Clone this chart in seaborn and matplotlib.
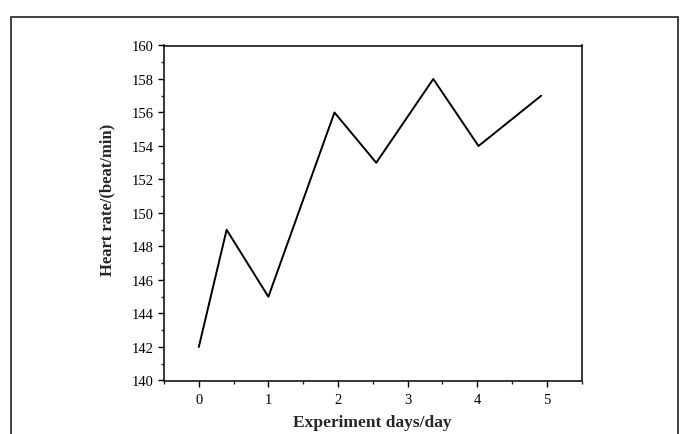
import numpy as np
import pandas as pd
import matplotlib
matplotlib.use("Agg")
import matplotlib.pyplot as plt
from matplotlib.patches import Rectangle
from matplotlib.ticker import MultipleLocator
import seaborn as sns

# values
days = [0.0, 0.4, 1.0, 1.95, 2.55, 3.37, 4.02, 4.92]
heart_rate = [142, 149, 145, 156, 153, 158, 154, 157]

x_label = "Experiment days/day"
y_label = "Heart rate/(beat/min)"

sns.set_style("ticks")
plt.rcParams['font.family'] = ['Liberation Serif', 'DejaVu Serif']

df = pd.DataFrame({"day": days, "rate": heart_rate})

fig = plt.figure(figsize=(6.83, 4.35), dpi=100)
ax = fig.add_axes([164 / 683, 1 - 381.5 / 435, (581.5 - 164) / 683, (381.5 - 46.5) / 435])

sns.lineplot(data=df, x="day", y="rate", color="black", linewidth=1.4, ax=ax)

ax.set_xlim(-0.5, 5.5)
ax.set_ylim(140, 160)
ax.xaxis.set_major_locator(MultipleLocator(1))
ax.xaxis.set_minor_locator(MultipleLocator(0.5))
ax.yaxis.set_major_locator(MultipleLocator(2))
ax.yaxis.set_minor_locator(MultipleLocator(1))
ax.tick_params(which="major", direction="out", length=4, width=1, labelsize=10.5, colors="black")
ax.tick_params(which="minor", direction="out", length=2.5, width=1)
ax.tick_params(axis="x", pad=5)
for sp in ax.spines.values():
    sp.set_linewidth(1.1)
    sp.set_color("black")

ax.set_xlabel(x_label, fontsize=12.5, fontweight="bold")
ax.set_ylabel(y_label, fontsize=12, fontweight="bold")
ax.xaxis.set_label_coords(0.5, -0.1)
ax.yaxis.set_label_coords(-0.117, 0.542)

# frame around the figure (bottom edge cut off in the reference)
fig.patches.append(Rectangle((11 / 683, -0.05), (678 - 11) / 683, 1.05 - 17.5 / 435,
                             transform=fig.transFigure, fill=False,
                             edgecolor="#333333", linewidth=1.3))

fig.savefig("out.png", dpi=100)
